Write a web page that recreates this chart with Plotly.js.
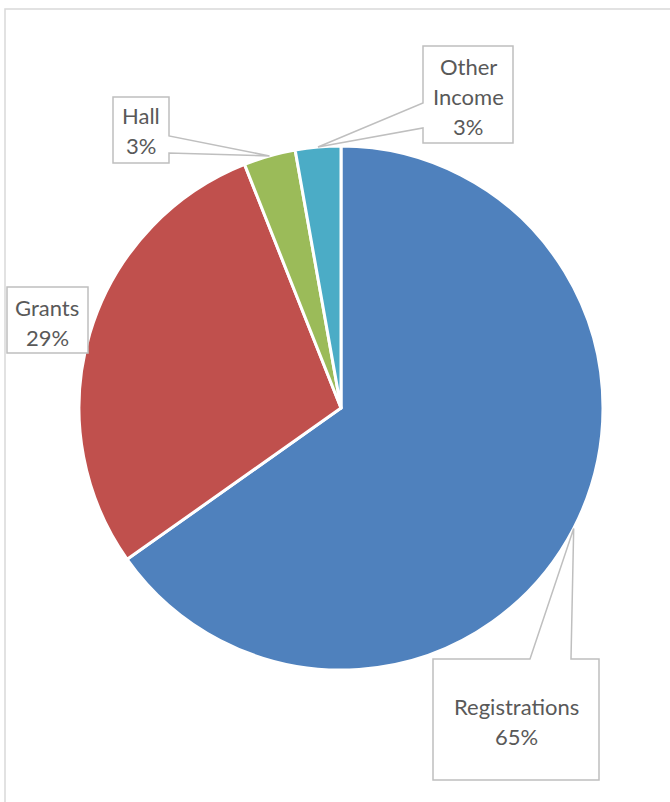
<!DOCTYPE html>
<html>
<head>
<meta charset="utf-8">
<script src="https://cdn.plot.ly/plotly-3.0.1.min.js"></script>
<style>html,body{margin:0;padding:0;background:#fff;}#chart{width:670px;height:802px;}</style>
</head>
<body>
<div id="chart"></div>
<script>
// ---- data ----
const categories = ["Registrations", "Grants", "Hall", "Other Income"];
const values = [65.2, 28.8, 3.2, 2.8];
const colors = ["#4F81BD", "#C0504D", "#9BBB59", "#4BACC6"];
// label lines (name split over lines as shown)
const labelLines = [["Registrations"], ["Grants"], ["Hall"], ["Other", "Income"]];

// ---- layout constants (pixels) ----
const W = 670, H = 802;
const cx = 341, cy = 408, R = 262;
const boxes = [
  {x0: 433, y0: 659, x1: 599, y1: 780, tx: 516, ty: 706, side: "top", b1: 530, b2: 571},
  {x0: 7,   y0: 287, x1: 88,  y1: 353, tx: 47,  ty: 307, side: null},
  {x0: 113, y0: 97,  x1: 169, y1: 163, tx: 141, ty: 115, side: "right", b1: 136, b2: 153},
  {x0: 423, y0: 46,  x1: 513, y1: 143, tx: 468, ty: 67,  side: "left", b1: 103, b2: 128}
];
const lineStep = 30;

const px = x => x / W;
const py = y => 1 - y / H;

const total = values.reduce((a, b) => a + b, 0);
let cum = 0;
const shapes = [];
const annotations = [];

// outer chart border
shapes.push({type: "path", xref: "paper", yref: "paper",
  path: `M ${px(5)},${py(830)} L ${px(5)},${py(9)} L ${px(700)},${py(9)}`,
  line: {color: "#D9D9D9", width: 1.5}, fillcolor: "rgba(0,0,0,0)", layer: "below"});

values.forEach((v, i) => {
  const mid = (cum + v / 2) / total * 2 * Math.PI; // clockwise from 12 o'clock
  cum += v;
  const tipX = cx + R * Math.sin(mid);
  const tipY = cy - R * Math.cos(mid);
  const b = boxes[i];
  let pts;
  if (b.side === "top") {
    pts = [[b.x0, b.y0], [b.b1, b.y0], [tipX, tipY], [b.b2, b.y0], [b.x1, b.y0], [b.x1, b.y1], [b.x0, b.y1]];
  } else if (b.side === "right") {
    pts = [[b.x0, b.y0], [b.x1, b.y0], [b.x1, b.b1], [tipX, tipY], [b.x1, b.b2], [b.x1, b.y1], [b.x0, b.y1]];
  } else if (b.side === "left") {
    pts = [[b.x0, b.y0], [b.x1, b.y0], [b.x1, b.y1], [b.x0, b.y1], [b.x0, b.b2], [tipX, tipY], [b.x0, b.b1]];
  } else {
    pts = [[b.x0, b.y0], [b.x1, b.y0], [b.x1, b.y1], [b.x0, b.y1]];
  }
  const path = pts.map((p, k) => (k ? "L " : "M ") + px(p[0]) + "," + py(p[1])).join(" ") + " Z";
  shapes.push({type: "path", xref: "paper", yref: "paper", path: path,
    line: {color: "#BFBFBF", width: 1.5}, fillcolor: "#FFFFFF", layer: "above"});
  const lines = labelLines[i].concat([Math.round(v / total * 100) + "%"]);
  lines.forEach((t, k) => {
    annotations.push({xref: "paper", yref: "paper", x: px(b.tx), y: py(b.ty + k * lineStep),
      xanchor: "center", yanchor: "middle", showarrow: false, text: t,
      font: {family: "Lato, 'Open Sans', sans-serif", size: 22, color: "#595959"}});
  });
});

const trace = {
  type: "pie",
  labels: categories,
  values: values,
  sort: false,
  direction: "clockwise",
  rotation: 0,
  textinfo: "none",
  hoverinfo: "skip",
  marker: {colors: colors, line: {color: "#FFFFFF", width: 3}},
  domain: {x: [px(cx - R), px(cx + R)], y: [py(cy + R), py(cy - R)]}
};

const layout = {
  width: W, height: H,
  margin: {l: 0, r: 0, t: 0, b: 0},
  showlegend: false,
  paper_bgcolor: "#FFFFFF",
  shapes: shapes,
  annotations: annotations
};

Plotly.newPlot("chart", [trace], layout, {staticPlot: true, displayModeBar: false});
</script>
</body>
</html>
